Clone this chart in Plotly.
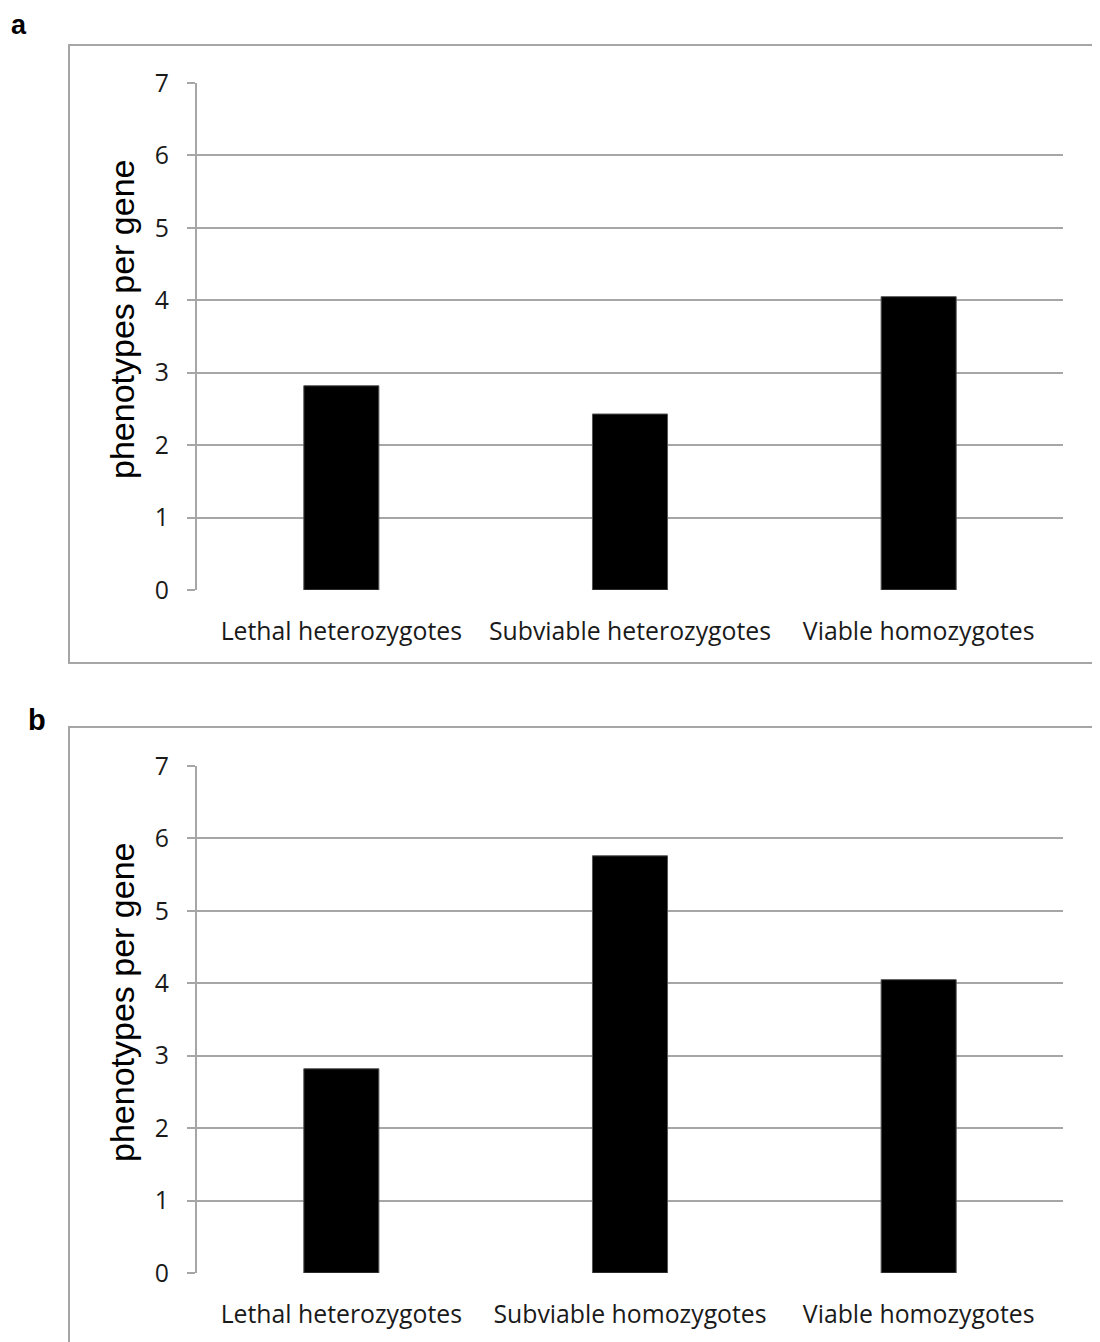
import plotly.graph_objects as go

categories_a = ["Lethal heterozygotes", "Subviable heterozygotes", "Viable homozygotes"]
values_a = [2.82, 2.43, 4.05]
categories_b = ["Lethal heterozygotes", "Subviable homozygotes", "Viable homozygotes"]
values_b = [2.82, 5.76, 4.05]
y_ticks = [0, 1, 2, 3, 4, 5, 6, 7]
y_title = "phenotypes per gene"
panel_labels = ["a", "b"]

W, H = 1100, 1342
OFF = 8  # page body margin offset
GRID = "#a6a6a6"
TICKFONT = dict(family="Open Sans, Noto Sans, sans-serif", size=24.8, color="#1a1a1a")


def px(v):
    return (v - OFF) / W


def py(v):
    return 1 - (v - OFF) / H


fig = go.Figure()
fig.add_trace(go.Bar(x=categories_a, y=values_a, xaxis="x", yaxis="y",
                     marker=dict(color="black", line=dict(color="#555555", width=1)),
                     showlegend=False))
fig.add_trace(go.Bar(x=categories_b, y=values_b, xaxis="x2", yaxis="y2",
                     marker=dict(color="black", line=dict(color="#555555", width=1)),
                     showlegend=False))

xdom = [px(197), px(1063)]
ydom_a = [py(590), py(83)]
ydom_b = [py(1273), py(766)]

xcommon = dict(domain=xdom, showgrid=False, zeroline=False, showline=False, automargin=False,
               ticks="", tickfont=TICKFONT, ticklabelstandoff=24, fixedrange=True)
ycommon = dict(range=[0, 7], tickvals=y_ticks, showgrid=True, gridcolor=GRID, gridwidth=2,
               zeroline=False, showline=True, linecolor=GRID, linewidth=2, automargin=False,
               ticks="outside", ticklen=8, tickcolor=GRID, tickwidth=2,
               tickfont=TICKFONT, ticklabelstandoff=13)

fig.update_layout(
    width=W, height=H, margin=dict(l=0, r=0, t=0, b=0, pad=0), autosize=False,
    paper_bgcolor="white", plot_bgcolor="white", bargap=0.74,
    xaxis=dict(**xcommon, anchor="y"),
    yaxis=dict(**ycommon, domain=ydom_a, anchor="x"),
    xaxis2=dict(**xcommon, anchor="y2"),
    yaxis2=dict(**ycommon, domain=ydom_b, anchor="x2"),
)

# outer frames
fig.add_shape(type="rect", xref="paper", yref="paper",
              x0=px(69), x1=px(1099), y0=py(663), y1=py(45),
              line=dict(color=GRID, width=2), layer="below")
fig.add_shape(type="path", xref="paper", yref="paper",
              path=f"M {px(69)} -0.01 L {px(69)} {py(727)} L {px(1099)} {py(727)} L {px(1099)} -0.01",
              line=dict(color=GRID, width=2), layer="below")

# y titles
for yc in [320, 1003]:
    fig.add_annotation(text=y_title, xref="paper", yref="paper", x=px(122), y=py(yc),
                       textangle=-90, showarrow=False, xanchor="center", yanchor="middle",
                       font=dict(family="Liberation Sans, Arial, sans-serif", size=34, color="black"))

# panel labels
fig.add_annotation(text=f"<b>{panel_labels[0]}</b>", xref="paper", yref="paper", x=px(19), y=1.0,
                   showarrow=False, xanchor="center", yanchor="top",
                   font=dict(family="Liberation Sans, Arial, sans-serif", size=27, color="black"))
fig.add_annotation(text=f"<b>{panel_labels[1]}</b>", xref="paper", yref="paper", x=px(37), y=py(720),
                   showarrow=False, xanchor="center", yanchor="middle",
                   font=dict(family="Liberation Sans, Arial, sans-serif", size=29, color="black"))

fig.write_html("out.html")
